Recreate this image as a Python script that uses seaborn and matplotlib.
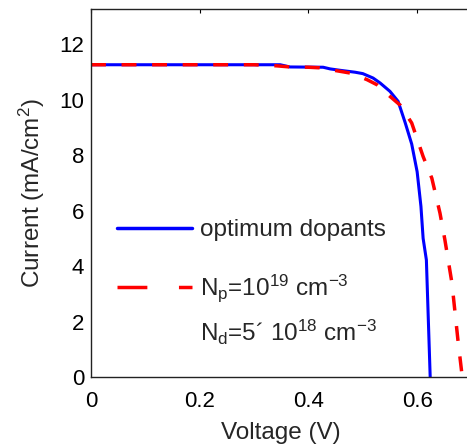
import pandas as pd
import seaborn as sns
import matplotlib
matplotlib.use("Agg")
import matplotlib.pyplot as plt

# Current-voltage curves
v_opt = [0, 0.348, 0.366, 0.427, 0.44, 0.458, 0.486, 0.50, 0.519, 0.532, 0.55, 0.565,
         0.578, 0.59, 0.60, 0.607, 0.611, 0.617, 0.624]
i_opt = [11.26, 11.26, 11.18, 11.17, 11.11, 11.06, 10.99, 10.94, 10.78, 10.60, 10.30, 9.94,
         9.17, 8.40, 7.40, 6.15, 5.0, 4.22, 0.0]

v_dop = [0, 0.30, 0.342, 0.366, 0.40, 0.42, 0.45, 0.48, 0.508, 0.526, 0.55, 0.569,
         0.590, 0.611, 0.627, 0.642, 0.651, 0.664, 0.675, 0.683]
i_dop = [11.26, 11.26, 11.22, 11.18, 11.17, 11.15, 11.05, 10.95, 10.72, 10.54, 10.12, 9.80,
         9.16, 7.95, 7.17, 5.91, 4.95, 3.39, 1.34, 0.0]

label_opt = "optimum dopants"
label_dop = r"N$_p$=10$^{19}$ cm$^{-3}$"
label_dop2 = r"N$_d$=5´ 10$^{18}$ cm$^{-3}$"

x_ticks = [0, 0.2, 0.4, 0.6]
y_ticks = [0, 2, 4, 6, 8, 10, 12]

sns.set_style("white")
plt.rcParams['font.family'] = ['Liberation Sans', 'DejaVu Sans']
plt.rcParams['mathtext.default'] = 'regular'

df_opt = pd.DataFrame({'V': v_opt, 'I': i_opt})
df_dop = pd.DataFrame({'V': v_dop, 'I': i_dop})

fig = plt.figure(figsize=(4.67, 4.45), dpi=100)
ax = fig.add_axes([91 / 467, 1 - 377 / 445, 380.5 / 467, 368 / 445])

sns.lineplot(data=df_opt, x='V', y='I', sort=False, estimator=None, color='#0000ff',
             linewidth=2.2, label=label_opt, ax=ax)
sns.lineplot(data=df_dop, x='V', y='I', sort=False, estimator=None, color='#ff0000',
             linewidth=2.5, label=label_dop, ax=ax)
ax.lines[1].set_dashes((4.3, 4.5))

ax.set_xlim(0, 0.7)
ax.set_ylim(0, 13.27)
ax.set_xticks(x_ticks)
ax.set_xticklabels(['0', '0.2', '0.4', '0.6'])
ax.set_yticks(y_ticks)
ax.tick_params(direction='in', length=3, width=0.8, labelsize=16, top=True, right=True,
               colors='k')
ax.tick_params(axis='x', pad=10)
ax.tick_params(axis='y', pad=5)
for s in ax.spines.values():
    s.set_color('#222222')
    s.set_linewidth(1.0)

ax.set_xlabel("Voltage (V)", fontsize=17.5, labelpad=7)
ax.set_ylabel("Current (mA/cm$^2$)", fontsize=17.5, labelpad=9)

leg = ax.legend(loc='upper left', bbox_to_anchor=(0.068, 0.429), frameon=False,
                fontsize=17.5, handlelength=3.1, handletextpad=0.33, labelspacing=1.3,
                borderpad=0, borderaxespad=0)
for h in leg.legend_handles:
    h.set_linewidth(2.5)
leg.legend_handles[1].set_dashes((8.6, 9.1))
ax.text(0.2865, 0.097, label_dop2, transform=ax.transAxes, fontsize=17.5, va='baseline')

fig.savefig('out.png', dpi=100)
